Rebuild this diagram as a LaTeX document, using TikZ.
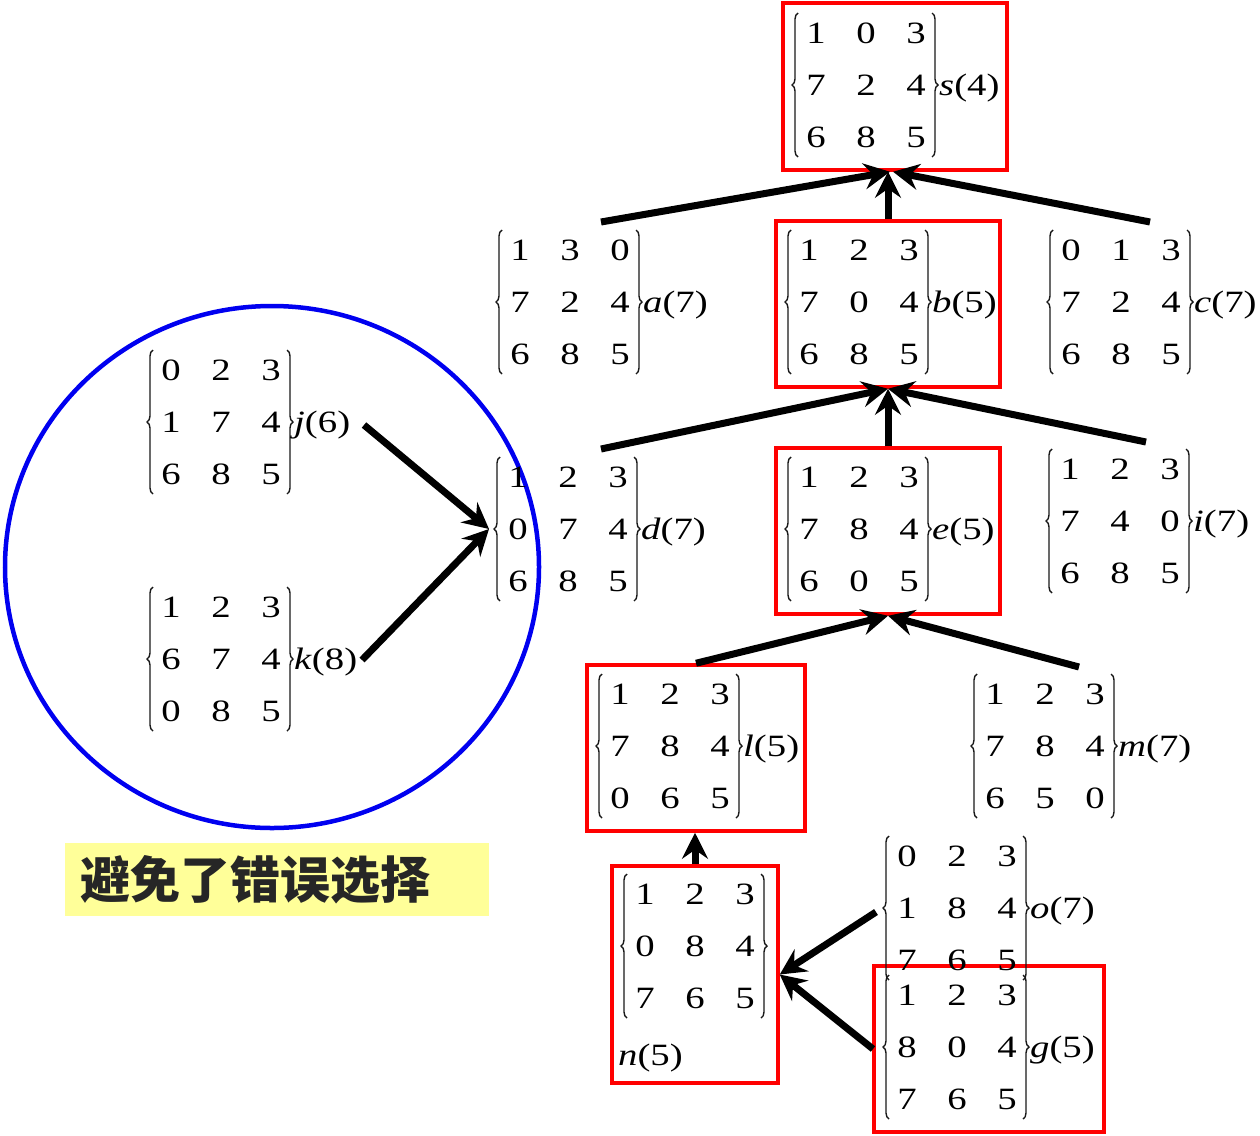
\documentclass[tikz,border=0pt]{standalone}
\usepackage{fontspec}
\setmainfont{Liberation Serif}[FakeStretch=1.25]
\newfontfamily\cjk{Noto Sans CJK SC}
\usetikzlibrary{arrows.meta,decorations.pathreplacing,calc,shapes.geometric}
\definecolor{boxred}{RGB}{255,0,0}
\definecolor{circblue}{RGB}{0,0,240}
\definecolor{noteyellow}{RGB}{255,255,153}
\definecolor{notetext}{RGB}{38,38,38}
\newcommand\mrow[3]{\makebox[50pt]{#1}\makebox[50pt]{#2}\makebox[50pt]{#3}}
\newcommand\mtxc[9]{\mrow{#1}{#2}{#3}\\\mrow{#4}{#5}{#6}\\\mrow{#7}{#8}{#9}}
\newcommand\puzzle[4]{%
  \node[mtx] (#1) at (#2) {#3};
  \draw[brc] ($(#1.center)+(-68,72)$) -- ($(#1.center)+(-68,-72)$);
  \draw[brc] ($(#1.center)+(66,-72)$) -- ($(#1.center)+(66,72)$);
  \node[lbl] (#1-l) at ($(#1.center)+(73,10)$) {#4};
}
\begin{document}
\begin{tikzpicture}[x=1pt,y=-1pt,
  mtx/.style={inner sep=0pt, align=center, text=black, font=\fontsize{31pt}{52pt}\selectfont},
  lbl/.style={inner sep=0pt, anchor=base west, font=\fontsize{31pt}{36pt}\selectfont},
  brc/.style={decorate, decoration={brace, amplitude=6pt}, line width=1.4pt, black!90},
  redbox/.style={draw=boxred, line width=3.5pt, inner sep=0pt},
  arr/.style={line width=7pt, -{Stealth[length=26pt, width=26pt, inset=9pt]}},
  note/.style={fill=noteyellow, inner xsep=15pt, inner ysep=0pt, minimum height=73pt,
    text width=394pt, align=left, text=notetext, font=\cjk\bfseries\fontsize{50pt}{56pt}\selectfont}
]
\useasboundingbox (0,0) rectangle (1260,1135);

% red boxes (drawn first)
\node[redbox, minimum width=224pt, minimum height=167pt] (S) at (895,86.5) {};
\node[redbox, minimum width=224pt, minimum height=166pt] (B) at (888,304) {};
\node[redbox, minimum width=224pt, minimum height=166pt] (E) at (888,531) {};
\node[redbox, minimum width=218pt, minimum height=166pt] (L) at (696,748) {};
\node[redbox, minimum width=166pt, minimum height=217pt] (N) at (695,974.5) {};
\node[redbox, minimum width=230pt, minimum height=166pt] (G) at (989,1049) {};

% blue circle
\node[ellipse, draw=circblue, line width=4.5pt, minimum width=534pt, minimum height=522pt, inner sep=0pt] (circ) at (272,567) {};

% puzzles
\puzzle{s}{866,85}{\mtxc103724685}{\textit{s}(4)}
\puzzle{a}{570,302}{\mtxc130724685}{\textit{a}(7)}
\puzzle{b}{859,302}{\mtxc123704685}{\textit{b}(5)}
\puzzle{c}{1121,302}{\mtxc013724685}{\textit{c}(7)}
\puzzle{d}{568,529}{\mtxc123074685}{\textit{d}(7)}
\puzzle{e}{859,529}{\mtxc123784605}{\textit{e}(5)}
\puzzle{i}{1120,521}{\mtxc123740685}{\textit{i}(7)}
\puzzle{l}{670,746}{\mtxc123784065}{\textit{l}(5)}
\puzzle{m}{1045,746}{\mtxc123784650}{\textit{m}(7)}
\puzzle{o}{957,908}{\mtxc023184765}{\textit{o}(7)}
\puzzle{g}{957,1047}{\mtxc123804765}{\textit{g}(5)}
\puzzle{j}{221,422}{\mtxc023174685}{\textit{j}(6)}
\puzzle{k}{221,659}{\mtxc123674085}{\textit{k}(8)}
% n: label below
\node[mtx] (n) at (695,946) {\mtxc123084765};
\draw[brc] ($(n.center)+(-68,72)$) -- ($(n.center)+(-68,-72)$);
\draw[brc] ($(n.center)+(66,-72)$) -- ($(n.center)+(66,72)$);
\node[lbl] (n-l) at (618,1065) {\textit{n}(5)};

% note
\node[note] (msg) at (277,879.5) {避免了错误选择};

% free ends of connectors
\coordinate (a-out) at (601,222);
\coordinate (c-out) at (1150,222);
\coordinate (d-out) at (601,449);
\coordinate (i-out) at (1146,442);
\coordinate (m-out) at (1079,667);
\coordinate (o-out) at (876,912);
\coordinate (g-out) at (873,1049);
\coordinate (j-out) at (364,425);
\coordinate (k-out) at (362,660);
\coordinate (d-in) at (489,529);

% connectors
\draw[arr] (a-out) -- ([xshift=-5pt]S.south);
\draw[arr] (B.north) -- (B.north |- S.south);
\draw[arr] (c-out) -- ([xshift=-2pt]S.south);
\draw[arr] (d-out) -- (B.south);
\draw[arr] (E.north) -- (B.south);
\draw[arr] (i-out) -- (B.south);
\draw[arr] (L.north) -- (E.south);
\draw[arr] (m-out) -- (E.south);
\draw[arr] (N.north) -- (N.north |- L.south);
\draw[arr] (o-out) -- (N.east);
\draw[arr] (g-out) -- (N.east);
\draw[arr] (j-out) -- (d-in);
\draw[arr] (k-out) -- (d-in);
\end{tikzpicture}
\end{document}
